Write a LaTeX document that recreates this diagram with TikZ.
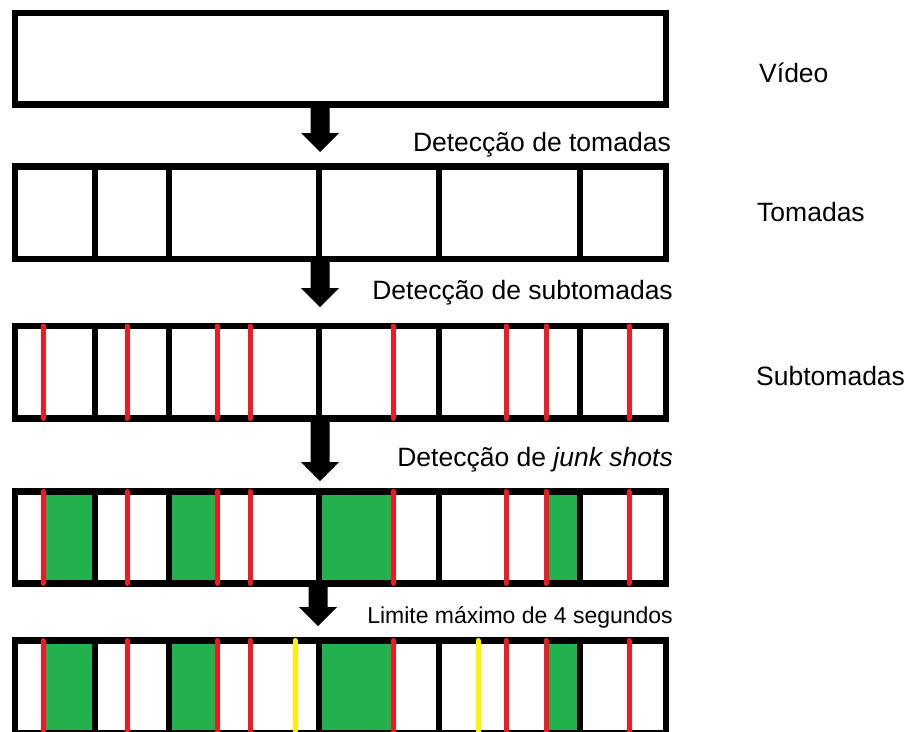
\documentclass[tikz,border=0pt]{standalone}
\usepackage{fontspec}
\setmainfont{Liberation Sans}
\usetikzlibrary{calc}
\definecolor{cutred}{HTML}{ED1C24}
\definecolor{junkgreen}{HTML}{22B14C}
\definecolor{limityellow}{HTML}{FFF200}
\begin{document}
\begin{tikzpicture}[x=1pt,y=-1pt,
  rowbox/.style={draw=black, line width=6.5pt, minimum width=651pt,
    minimum height=#1, inner sep=0pt, outer sep=0pt},
  divider/.style={draw=black, line width=6pt},
  cut/.style={draw=cutred, line width=5pt, line cap=round},
  limitcut/.style={draw=limityellow, line width=5pt, line cap=round},
  junk/.style={fill=junkgreen},
  steplabel/.style={inner sep=0pt, text=black, font=\fontsize{26.5}{30}\selectfont},
  smalllabel/.style={inner sep=0pt, text=black, font=\fontsize{23}{27}\selectfont},
  rowlabel/.style={inner sep=0pt, text=black, anchor=base west, font=\fontsize{26.5}{30}\selectfont},
  blockarrow/.style={fill=black}
]
\useasboundingbox (0,0) rectangle (907,731);

% the five strips
\node[rowbox=91.5pt] (r1) at (340.5,58.75) {};
\node[rowbox=92.5pt] (r2) at (340.5,212.75) {};
\node[rowbox=92.5pt] (r3) at (340.5,372.25) {};
\node[rowbox=92pt]   (r4) at (340.5,537.5) {};
\node[rowbox=92.5pt] (r5) at (340.5,686.75) {};

% junk shots (green) in the last two strips
\foreach \r in {r4,r5}{
  \foreach \xa/\xb in {43/95, 169/217, 318.5/393, 546/579.5}{
    \fill[junk] ($(\xa,0 |- \r.north)+(0,3.25)$) rectangle ($(\xb,0 |- \r.south)+(0,-3.25)$);
  }
}

% shot boundaries
\foreach \r in {r2,r3,r4,r5}{
  \foreach \x in {95,169,318.5,438.5,579.5}{
    \draw[divider] (\x,0 |- \r.north) -- (\x,0 |- \r.south);
  }
}

% subshot boundaries
\foreach \r in {r3,r4,r5}{
  \foreach \x in {43,127,217,250,393,506,546,629}{
    \draw[cut] (\x,0 |- \r.north) -- (\x,0 |- \r.south);
  }
}

% cuts added by the 4 second limit
\foreach \x in {295,478}{
  \draw[limitcut] (\x,0 |- r5.north) -- (\x,0 |- r5.south);
}

% block arrows between the strips
\foreach \a/\x/\y in {r1/320/152, r2/320/307, r3/320/481, r4/318/626}{
  \coordinate (tip\a) at (\x,\y);
  \fill[blockarrow] ($(\a.south -| tip\a)+(-9.5,0)$) -- ($(tip\a)+(-9.5,-19)$)
    -- ($(tip\a)+(-19,-19)$) -- (tip\a) -- ($(tip\a)+(19,-19)$)
    -- ($(tip\a)+(9.5,-19)$) -- ($(\a.south -| tip\a)+(9.5,0)$) -- cycle;
}

% step labels
\node[steplabel, anchor=base east] (s1) at (671,151.5) {Detecção de tomadas};
\node[steplabel, anchor=base east] (s2) at (673,299) {Detecção de subtomadas};
\node[steplabel, anchor=base east] (s3) at (673,466) {Detecção de \textit{junk shots}};
\node[smalllabel, anchor=base east] (s4) at (673,623) {Limite máximo de 4 segundos};

% strip labels
\node[rowlabel] (n1) at (759,82) {Vídeo};
\node[rowlabel] (n2) at (757,221) {Tomadas};
\node[rowlabel] (n3) at (756,385.5) {Subtomadas};
\end{tikzpicture}
\end{document}
